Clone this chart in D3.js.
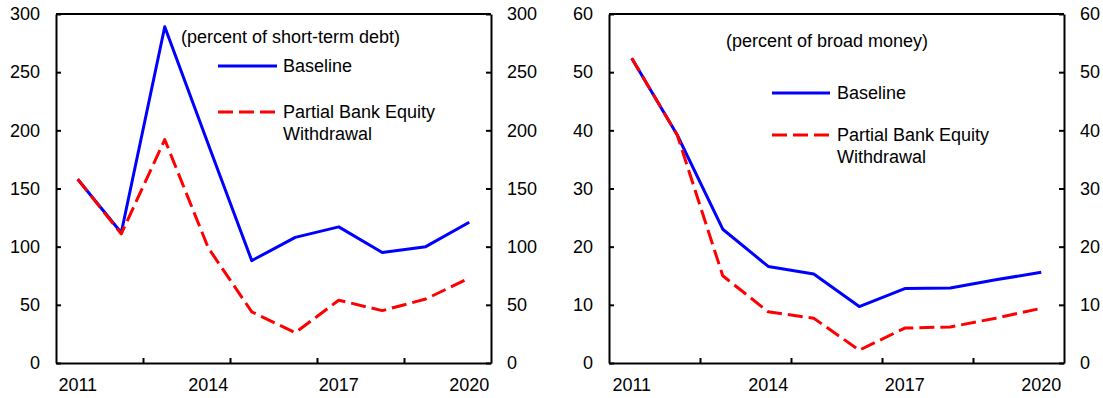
<!DOCTYPE html>
<html>
<head>
<meta charset="utf-8">
<script src="https://cdn.jsdelivr.net/npm/d3@7"></script>
<style>
  html, body { margin: 0; padding: 0; background: #fff; }
  svg text { font-family: "Liberation Sans", Arial, sans-serif; fill: #000; }
</style>
</head>
<body>
<svg id="chart" width="1103" height="398"></svg>
<script>
// Years shown on the horizontal axis
const years = [2011, 2012, 2013, 2014, 2015, 2016, 2017, 2018, 2019, 2020];
const yearLabels = [2011, 2014, 2017, 2020];
const yearTicks = [2013, 2015, 2017, 2019];

// Left panel: percent of short-term debt
const debtBaseline = [158, 112, 289, 188, 88, 108, 117, 95, 100, 121];
const debtWithdrawal = [158, 111, 192, 99, 44, 26, 54, 45, 55, 73];
const debtTicks = [0, 50, 100, 150, 200, 250, 300];

// Right panel: percent of broad money
const moneyBaseline = [52.4, 39.2, 23.0, 16.6, 15.3, 9.7, 12.8, 12.9, 14.3, 15.6];
const moneyWithdrawal = [52.4, 39.2, 15.0, 8.8, 7.7, 2.2, 6.0, 6.2, 7.7, 9.4];
const moneyTicks = [0, 10, 20, 30, 40, 50, 60];

const seriesNames = ["Baseline", "Partial Bank Equity", "Withdrawal"];

const svg = d3.select("#chart");
const FONT = 18;

function panel(opts) {
  const { left, right, top, bottom, yMax, yTickVals, base, alt, note, legend } = opts;

  const x = d3.scaleBand().domain(years).range([left, right]).padding(0);
  const xEdge = d3.scaleLinear().domain([years[0], years[years.length - 1] + 1]).range([left, right]);
  const y = d3.scaleLinear().domain([0, yMax]).range([bottom, top]);
  const cx = yr => x(yr) + x.bandwidth() / 2;

  const g = svg.append("g");

  // top border of the plot frame
  g.append("line")
    .attr("x1", left).attr("x2", right)
    .attr("y1", top).attr("y2", top)
    .attr("stroke", "#000").attr("stroke-width", 2);

  // left value axis, ticks pointing inward
  const ax = g.append("g").attr("transform", `translate(${left},0)`)
    .call(d3.axisLeft(y).tickValues(yTickVals).tickSize(-5).tickSizeOuter(0).tickPadding(16));
  // right value axis, mirrored
  const ax2 = g.append("g").attr("transform", `translate(${right},0)`)
    .call(d3.axisRight(y).tickValues(yTickVals).tickSize(-5).tickSizeOuter(0).tickPadding(16));

  // bottom axis: tick marks on band edges, labels on band centres
  const bt = g.append("g").attr("transform", `translate(0,${bottom})`)
    .call(d3.axisBottom(xEdge).tickValues(yearTicks).tickSize(-5).tickSizeOuter(0).tickFormat(""));
  const bl = g.append("g").attr("transform", `translate(0,${bottom})`)
    .call(d3.axisBottom(x).tickValues(yearLabels).tickSize(0).tickSizeOuter(0).tickPadding(15));
  bl.select(".domain").remove();

  [ax, ax2, bt].forEach(a => {
    a.select(".domain").attr("stroke", "#000").attr("stroke-width", 2);
    a.selectAll(".tick line").attr("stroke", "#000").attr("stroke-width", 2);
  });
  [ax, ax2, bl].forEach(a => a.selectAll("text")
    .attr("font-size", FONT).attr("font-family", '"Liberation Sans", Arial, sans-serif').attr("fill", "#000"));

  const line = d3.line().x((d, i) => cx(years[i])).y(d => y(d));

  g.append("path").datum(base)
    .attr("d", line).attr("fill", "none")
    .attr("stroke", "#0000FF").attr("stroke-width", 3).attr("stroke-linejoin", "round");
  g.append("path").datum(alt)
    .attr("d", line).attr("fill", "none")
    .attr("stroke", "#FF0000").attr("stroke-width", 3)
    .attr("stroke-dasharray", "15,6").attr("stroke-linejoin", "round");

  // unit note
  g.append("text").attr("x", note.x).attr("y", note.y).attr("dy", "0.35em")
    .attr("font-size", FONT).text(note.text);

  // legend
  const L = legend;
  g.append("line").attr("x1", L.x1).attr("x2", L.x2).attr("y1", L.y1).attr("y2", L.y1)
    .attr("stroke", "#0000FF").attr("stroke-width", 3);
  g.append("line").attr("x1", L.x1).attr("x2", L.x2).attr("y1", L.y2).attr("y2", L.y2)
    .attr("stroke", "#FF0000").attr("stroke-width", 3).attr("stroke-dasharray", "15,6");
  g.append("text").attr("x", L.tx).attr("y", L.y1).attr("dy", "0.35em")
    .attr("font-size", FONT).text(seriesNames[0]);
  g.append("text").attr("x", L.tx).attr("y", L.y2).attr("dy", "0.35em")
    .attr("font-size", FONT).text(seriesNames[1]);
  g.append("text").attr("x", L.tx).attr("y", L.y2 + 22).attr("dy", "0.35em")
    .attr("font-size", FONT).text(seriesNames[2]);
}

panel({
  left: 56, right: 491, top: 14, bottom: 363, yMax: 300, yTickVals: debtTicks,
  base: debtBaseline, alt: debtWithdrawal,
  note: { x: 181, y: 37, text: "(percent of short-term debt)" },
  legend: { x1: 218, x2: 277, tx: 283, y1: 66, y2: 112 }
});

panel({
  left: 609, right: 1064, top: 14, bottom: 363, yMax: 60, yTickVals: moneyTicks,
  base: moneyBaseline, alt: moneyWithdrawal,
  note: { x: 726, y: 41, text: "(percent of broad money)" },
  legend: { x1: 772, x2: 830, tx: 837, y1: 93, y2: 135 }
});
</script>
</body>
</html>
